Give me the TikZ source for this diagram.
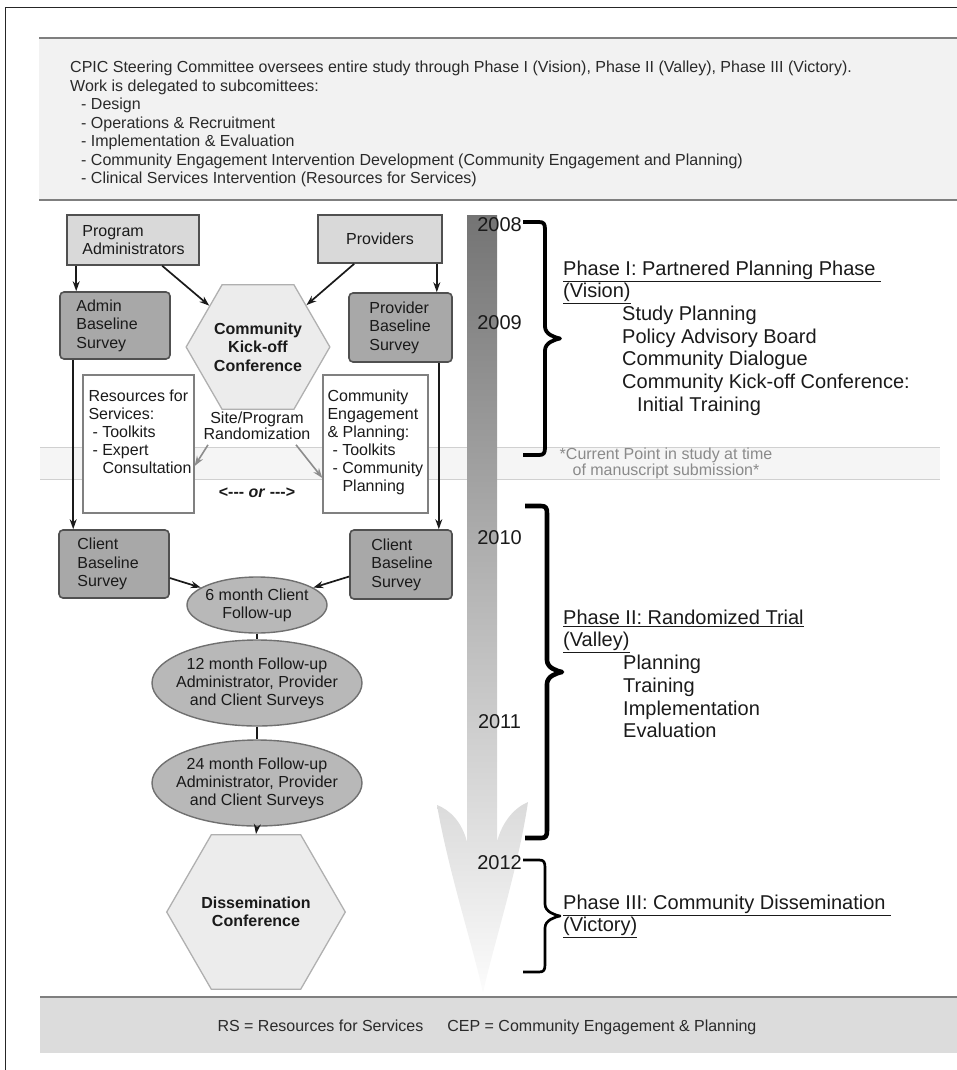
\documentclass[tikz,border=0pt]{standalone}
\usepackage{fontspec}
\setmainfont{Liberation Sans}
\usetikzlibrary{shapes.geometric,arrows.meta,calc}
\definecolor{txt}{HTML}{1A1A1A}
\definecolor{txtb}{HTML}{2A2A2A}
\definecolor{bordc}{HTML}{505050}
\definecolor{lightf}{HTML}{D9D9D9}
\definecolor{darkf}{HTML}{A8A8A8}
\definecolor{hexf}{HTML}{ECECEC}
\definecolor{hexb}{HTML}{B0B0B0}
\definecolor{ellf}{HTML}{B8B8B8}
\definecolor{ellb}{HTML}{707070}
\definecolor{topf}{HTML}{F2F2F2}
\definecolor{rulec}{HTML}{7F7F7F}
\definecolor{botf}{HTML}{DCDCDC}
\definecolor{bandf}{HTML}{F5F5F5}
\definecolor{bandl}{HTML}{D0D0D0}
\definecolor{wboxb}{HTML}{808080}
\definecolor{curc}{HTML}{8A8A8A}
\definecolor{randc}{HTML}{8C8C8C}
\definecolor{bartop}{HTML}{747474}
\definecolor{barbot}{HTML}{FCFCFC}
\newcommand{\phasebrace}[6]{%
  \draw[line width=#6, line cap=butt, line join=round, draw=black]
   (#1,#4) -- ({#2-6},#4) .. controls ({#2-1},#4) and (#2,{#4+2}) .. (#2,{#4+8})
   -- (#2,{(#4+#5)/2-12}) .. controls (#2,{(#4+#5)/2-4}) and ({#3-5},{(#4+#5)/2-1}) .. (#3,{(#4+#5)/2})
   .. controls ({#3-5},{(#4+#5)/2+1}) and (#2,{(#4+#5)/2+4}) .. (#2,{(#4+#5)/2+12})
   -- (#2,{#5-8}) .. controls (#2,{#5-2}) and ({#2-1},#5) .. ({#2-6},#5) -- (#1,#5);}
\begin{document}
\begin{tikzpicture}[x=1pt,y=-1pt,
  every node/.style={text=txt},
  font=\fontsize{16}{18.5}\selectfont,
  lbox/.style={draw=bordc, fill=lightf, line width=1.6pt, inner sep=0pt},
  dbox/.style={lbox, fill=darkf, rounded corners=4pt},
  wbox/.style={draw=wboxb, fill=white, line width=1.3pt, inner sep=0pt},
  btext/.style={align=left, inner sep=0pt, anchor=west, font=\fontsize{16}{18.5}\selectfont},
  wtext/.style={align=left, inner sep=0pt, anchor=north west, font=\fontsize{16}{18}\selectfont},
  hexa/.style={regular polygon, regular polygon sides=6, draw=hexb, fill=hexf, line width=1.3pt,
    inner sep=0pt, align=center, font=\bfseries\fontsize{16}{18.5}\selectfont},
  ell/.style={ellipse, draw=ellb, fill=ellf, line width=1.4pt, inner sep=0pt},
  etext/.style={align=center, inner sep=0pt, font=\fontsize{16}{18}\selectfont},
  arr/.style={draw=txt, line width=1.7pt, -{Stealth[length=10pt,width=7pt]}},
  plain/.style={draw=txt, line width=1.7pt},
  rarr/.style={draw=randc, line width=1.6pt, -{Stealth[length=10pt,width=7pt]}},
  phase/.style={anchor=north west, align=left, inner sep=0pt, text=txt, font=\fontsize{20}{22.7}\selectfont},
  year/.style={inner sep=0pt, text=txt, font=\fontsize{20}{22}\selectfont}
]
\useasboundingbox (0,0) rectangle (957,1070);
% outer frame
\draw[line width=1pt, black!85] (5,1070) -- (5,8) -- (957,8);
% top box
\fill[topf] (39,38) rectangle (957,200);
\draw[rulec, line width=2.2pt] (39,38) -- (957,38);
\draw[rulec, line width=2.2pt] (39,200) -- (957,200);
\node[anchor=north west, align=left, inner sep=0pt, text=txtb, font=\fontsize{16}{18.5}\selectfont] (steer) at (70,61)
 {CPIC Steering Committee oversees entire study through Phase I (Vision), Phase II (Valley), Phase III (Victory).\\
  Work is delegated to subcomittees:\\
  \hspace*{11pt}- Design\\
  \hspace*{11pt}- Operations \& Recruitment\\
  \hspace*{11pt}- Implementation \& Evaluation\\
  \hspace*{11pt}- Community Engagement Intervention Development (Community Engagement and Planning)\\
  \hspace*{11pt}- Clinical Services Intervention (Resources for Services)};
% bottom band
\fill[botf] (40,997) rectangle (957,1053);
\draw[rulec, line width=2.2pt] (40,997) -- (957,997);
\node[text=txtb, inner sep=0pt, font=\fontsize{16}{18}\selectfont] (legend) at (487,1027)
 {RS = Resources for Services\hspace{24pt}CEP = Community Engagement \& Planning};
% current point band
\fill[bandf] (40,447) rectangle (940,479);
\draw[bandl, line width=1pt] (40,447) -- (940,447);
\draw[bandl, line width=1pt] (40,479) -- (940,479);
\node[align=center, inner sep=0pt, text=curc, font=\fontsize{16}{16}\selectfont] (cur) at (666,463)
 {*Current Point in study at time\\of manuscript submission*};
% timeline arrow
\shade[top color=bartop, bottom color=barbot]
 (467,215) -- (467,842) .. controls (462,822) and (450,810) .. (437,805)
 .. controls (448,870) and (474,950) .. (483,993)
 .. controls (492,950) and (518,870) .. (528,802)
 .. controls (514,808) and (502,822) .. (497,842) -- (497,215) -- cycle;
% years
\node[year] (y8) at (499.5,225) {2008};
\node[year] (y9) at (499.5,323) {2009};
\node[year] (y10) at (499.5,538) {2010};
\node[year] (y11) at (499.5,722) {2011};
\node[year] (y12) at (499.5,863) {2012};
% braces
\phasebrace{523}{545}{560}{222}{455}{3.8pt}
\phasebrace{525}{547}{562}{506}{838}{4.6pt}
\phasebrace{523}{545}{560}{860}{972}{2.7pt}
% phase texts
\node[phase] (ph1) at (563,260.5)
 {\underline{Phase I: Partnered Planning Phase\ }\\
  \underline{(Vision)}\\
  \hspace*{59pt}Study Planning\\
  \hspace*{59pt}Policy Advisory Board\\
  \hspace*{59pt}Community Dialogue\\
  \hspace*{59pt}Community Kick-off Conference:\\
  \hspace*{74pt}Initial Training};
\node[phase] (ph2) at (563,609.5)
 {\underline{Phase II: Randomized Trial}\\
  \underline{(Valley)}\\
  \hspace*{60pt}Planning\\
  \hspace*{60pt}Training\\
  \hspace*{60pt}Implementation\\
  \hspace*{60pt}Evaluation};
\node[phase] (ph3) at (563,894.5)
 {\underline{Phase III: Community Dissemination\ }\\
  \underline{(Victory)}};
% flowchart nodes
\node[lbox, minimum width=132pt, minimum height=50pt] (pa) at (133,240) {};
\node[btext] (pat) at ([xshift=16pt]pa.west) {Program\\Administrators};
\node[lbox, minimum width=124pt, minimum height=48pt] (prov) at (380,239) {Providers};
\node[dbox, minimum width=110pt, minimum height=67pt] (ab) at (115,325.5) {};
\node[btext] (abt) at ([xshift=17pt]ab.west) {Admin\\Baseline\\Survey};
\node[dbox, minimum width=103pt, minimum height=69pt] (pb) at (400.5,327.5) {};
\node[btext] (pbt) at ([xshift=21pt]pb.west) {Provider\\Baseline\\Survey};
\node[hexa, minimum size=137pt] (kick) at (258,347) {Community\\Kick-off\\Conference};
\node[align=center, inner sep=0pt, font=\fontsize{16}{15.5}\selectfont] (rand) at (257,426) {Site/Program\\Randomization};
\node[wbox, minimum width=111pt, minimum height=138pt] (rs) at (138.5,444) {};
\node[wtext] (rst) at ([xshift=6pt,yshift=-15pt]rs.north west)
 {Resources for\\Services:\\\hspace*{4pt}- Toolkits\\\hspace*{4pt}- Expert\\\hspace*{14pt}Consultation};
\node[wbox, minimum width=105pt, minimum height=138pt] (cep) at (375.5,444) {};
\node[wtext] (cept) at ([xshift=5pt,yshift=-15pt]cep.north west)
 {Community\\Engagement\\\& Planning:\\\hspace*{5pt}- Toolkits\\\hspace*{5pt}- Community\\\hspace*{15pt}Planning};
\node[inner sep=0pt, font=\bfseries\fontsize{16}{18}\selectfont] (ornode) at (257,493) {<{-}{-}{-} \textit{or} {-}{-}{-}>};
\node[dbox, minimum width=110pt, minimum height=68pt] (cl) at (114,564) {};
\node[btext] (clt) at ([xshift=19pt]cl.west) {Client\\Baseline\\Survey};
\node[dbox, minimum width=102pt, minimum height=69pt] (cr) at (401,564.5) {};
\node[btext] (crt) at ([xshift=22pt]cr.west) {Client\\Baseline\\Survey};
\node[ell, minimum width=140pt, minimum height=56pt] (m6) at (257,605) {};
\node[etext] (m6t) at (m6) {6 month Client\\Follow-up};
\node[ell, minimum width=210pt, minimum height=86pt] (m12) at (257,683) {};
\node[etext] (m12t) at (m12) {12 month Follow-up\\Administrator, Provider\\and Client Surveys};
\node[ell, minimum width=210pt, minimum height=86pt] (m24) at (257,783) {};
\node[etext] (m24t) at (m24) {24 month Follow-up\\Administrator, Provider\\and Client Surveys};
\node[hexa, minimum size=140pt] (diss) at (256,912) {Dissemination\\Conference};
% connectors
\draw[arr] ([xshift=10pt]pa.south west) -- ([xshift=17pt]ab.north west);
\draw[arr] ([xshift=96pt]pa.south west) -- (kick);
\draw[arr] ([xshift=37pt]prov.south west) -- (kick);
\draw[arr] ([xshift=-6pt]prov.south east) -- ([xshift=-16pt]pb.north east);
\draw[arr] ([xshift=14pt]ab.south west) -- ([xshift=15pt]cl.north west);
\draw[arr] ([xshift=-14pt]pb.south east) -- ([xshift=-14pt]cr.north east);
\draw[rarr] ([xshift=-49pt,yshift=-5pt]rand.south) -- ([yshift=-22pt]rs.east);
\draw[rarr] ([xshift=39pt,yshift=-5pt]rand.south) -- ([yshift=-34pt]cep.west);
\draw[arr] ([yshift=-14pt]cl.east) -- (m6);
\draw[arr] ([yshift=-12pt]cr.west) -- (m6);
\draw[plain] (m6.south) -- (m12.north);
\draw[plain] (m12.south) -- (m24.north);
\draw[arr] (m24.south) -- (diss.north);
\end{tikzpicture}
\end{document}
